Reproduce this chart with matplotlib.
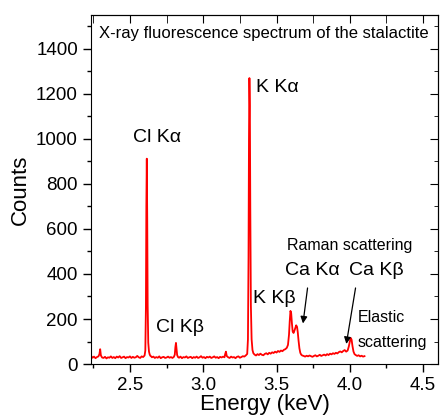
import numpy as np
import matplotlib
matplotlib.use("Agg")
import matplotlib.pyplot as plt
from matplotlib.ticker import MultipleLocator

plt.rcParams["font.family"] = ["Liberation Sans", "DejaVu Sans"]

# ── 스펙트럼 데이터 ──────────────────────────────────
energy = [
    2.235, 2.245, 2.255, 2.265, 2.275, 2.285, 2.292, 2.297, 2.302, 2.31,
    2.32, 2.33, 2.34, 2.35, 2.36, 2.37, 2.38, 2.39, 2.40, 2.41,
    2.42, 2.43, 2.44, 2.45, 2.46, 2.47, 2.48, 2.49, 2.50, 2.51,
    2.52, 2.53, 2.54, 2.55, 2.56, 2.57, 2.58, 2.59, 2.60,
    2.605, 2.609, 2.612, 2.615, 2.618, 2.621, 2.625, 2.63, 2.635, 2.64, 2.645,
    2.65, 2.66, 2.67, 2.68, 2.69, 2.70, 2.71, 2.72, 2.73, 2.74,
    2.75, 2.76, 2.77, 2.78, 2.79, 2.80,
    2.806, 2.81, 2.814, 2.818, 2.822, 2.828,
    2.835, 2.845, 2.855, 2.865, 2.875, 2.885, 2.895, 2.905, 2.915, 2.925,
    2.935, 2.945, 2.955, 2.965, 2.975, 2.985, 2.995, 3.005, 3.015, 3.025,
    3.035, 3.045, 3.055, 3.065, 3.075, 3.085, 3.095, 3.105, 3.115, 3.125,
    3.135, 3.145,
    3.15, 3.155, 3.16,
    3.17, 3.18, 3.19, 3.20, 3.21, 3.22, 3.23, 3.24, 3.25, 3.26,
    3.27, 3.28, 3.29, 3.30,
    3.305, 3.309, 3.312, 3.315, 3.318, 3.321, 3.325, 3.33, 3.336, 3.342,
    3.35, 3.36, 3.37, 3.38, 3.39, 3.40, 3.41, 3.42, 3.43, 3.44,
    3.45, 3.46, 3.47, 3.48, 3.49, 3.50, 3.51, 3.52, 3.53, 3.54,
    3.55, 3.56, 3.57,
    3.578, 3.585, 3.59, 3.595, 3.60, 3.605, 3.61, 3.616, 3.622, 3.628,
    3.634, 3.64, 3.645, 3.65, 3.656, 3.662, 3.668, 3.675,
    3.685, 3.695, 3.705, 3.715, 3.725, 3.735, 3.745, 3.755, 3.765, 3.775,
    3.785, 3.795, 3.805, 3.815, 3.825, 3.835, 3.845, 3.855, 3.865, 3.875,
    3.885, 3.895, 3.905, 3.915, 3.925, 3.935, 3.945,
    3.955, 3.965, 3.975, 3.985, 3.993, 4.00, 4.006, 4.012, 4.018, 4.025, 4.032,
    4.04, 4.05, 4.06, 4.07, 4.08, 4.09, 4.10,
]
counts = [
    36, 28, 33, 26, 31, 34, 44, 66, 38, 29,
    27, 32, 25, 30, 28, 34, 27, 31, 26, 33,
    29, 35, 27, 30, 33, 26, 31, 29, 34, 27,
    32, 28, 30, 36, 30, 27, 34, 31, 38,
    60, 250, 700, 912, 650, 260, 95, 55, 42, 36, 34,
    30, 33, 27, 31, 28, 34, 26, 30, 32, 27,
    29, 33, 28, 31, 27, 32,
    42, 75, 94, 68, 40, 31,
    28, 33, 26, 31, 29, 34, 27, 30, 32, 26,
    31, 28, 33, 27, 30, 35, 28, 31, 26, 32,
    29, 33, 27, 30, 34, 28, 31, 26, 32, 29,
    33, 30,
    45, 55, 36,
    30, 27, 33, 29, 31, 26, 32, 34, 28, 31,
    35, 33, 38, 45,
    110, 480, 1000, 1270, 1150, 700, 260, 110, 62, 48,
    42, 38, 44, 40, 46, 41, 39, 45, 48, 43,
    50, 46, 52, 49, 55, 51, 58, 54, 60, 57,
    63, 66, 72,
    85, 130, 190, 236, 225, 180, 145, 138, 148, 160,
    172, 165, 140, 105, 70, 50, 42, 38,
    36, 33, 37, 34, 38, 35, 32, 36, 39, 34,
    37, 41, 36, 39, 42, 38, 44, 40, 46, 43,
    48, 45, 50, 47, 53, 56, 52,
    58, 62, 55, 60, 78, 100, 116, 108, 80, 55, 44,
    40, 36, 39, 34, 37, 33, 35,
]

# ── 피크 라벨 ────────────────────────────────────────────────
peak_labels = ["Cl Kα", "K Kα", "Cl Kβ", "K Kβ", "Ca Kα", "Ca Kβ"]
peak_label_x = [2.684, 3.36, 2.84, 3.482, 3.742, 4.178]
peak_label_y = [1004, 1226, 164, 292, 416, 416]
peak_label_ha = ["center", "left", "center", "center", "center", "center"]

fig = plt.figure(figsize=(4.4, 4.17), dpi=100)
ax = fig.add_axes([0.207, 0.127, 0.788, 0.837])

ax.plot(energy, counts, color="red", lw=1.3)

ax.set_xlim(2.235, 4.6)
ax.set_ylim(0, 1550)
ax.xaxis.set_major_locator(MultipleLocator(0.5))
ax.xaxis.set_minor_locator(MultipleLocator(0.25))
ax.yaxis.set_major_locator(MultipleLocator(200))
ax.yaxis.set_minor_locator(MultipleLocator(100))
ax.xaxis.set_major_formatter(matplotlib.ticker.FormatStrFormatter("%.1f"))

ax.tick_params(which="both", direction="out", top=False, right=False,
               labelsize=13.5, width=1)
ax.tick_params(which="major", length=6)
ax.tick_params(which="minor", length=3)
# 위/오른쪽 눈금은 안쪽으로
ax2 = ax.secondary_xaxis("top")
ax2.xaxis.set_major_locator(MultipleLocator(0.5))
ax2.xaxis.set_minor_locator(MultipleLocator(0.25))
ax2.tick_params(which="both", direction="in", labeltop=False)
ax2.tick_params(which="major", length=6)
ax2.tick_params(which="minor", length=6)
ay2 = ax.secondary_yaxis("right")
ay2.yaxis.set_major_locator(MultipleLocator(200))
ay2.yaxis.set_minor_locator(MultipleLocator(100))
ay2.tick_params(which="both", direction="in", labelright=False)
ay2.tick_params(which="major", length=6)
ay2.tick_params(which="minor", length=3)

ax.set_xlabel("Energy (keV)", fontsize=16, labelpad=0)
ax.set_ylabel("Counts", fontsize=16, labelpad=4)

ax.text(0.497, 0.948, "X-ray fluorescence spectrum of the stalactite",
        transform=ax.transAxes, ha="center", va="center", fontsize=12)

for lab, lx, ly, ha in zip(peak_labels, peak_label_x, peak_label_y, peak_label_ha):
    ax.text(lx, ly, lab, ha=ha, va="center", fontsize=14)

ax.text(4.0, 527, "Raman scattering", ha="center", va="center", fontsize=11.5)
ax.text(4.055, 208, "Elastic", ha="left", va="center", fontsize=11.5)
ax.text(4.055, 97, "scattering", ha="left", va="center", fontsize=11.5)

arrow = dict(arrowstyle="-|>", color="black", lw=0.9, mutation_scale=10)
ax.annotate("", xy=(3.678, 168), xytext=(3.714, 350), arrowprops=arrow)
ax.annotate("", xy=(3.973, 77), xytext=(4.042, 350), arrowprops=arrow)

fig.savefig("out.png", dpi=100)
